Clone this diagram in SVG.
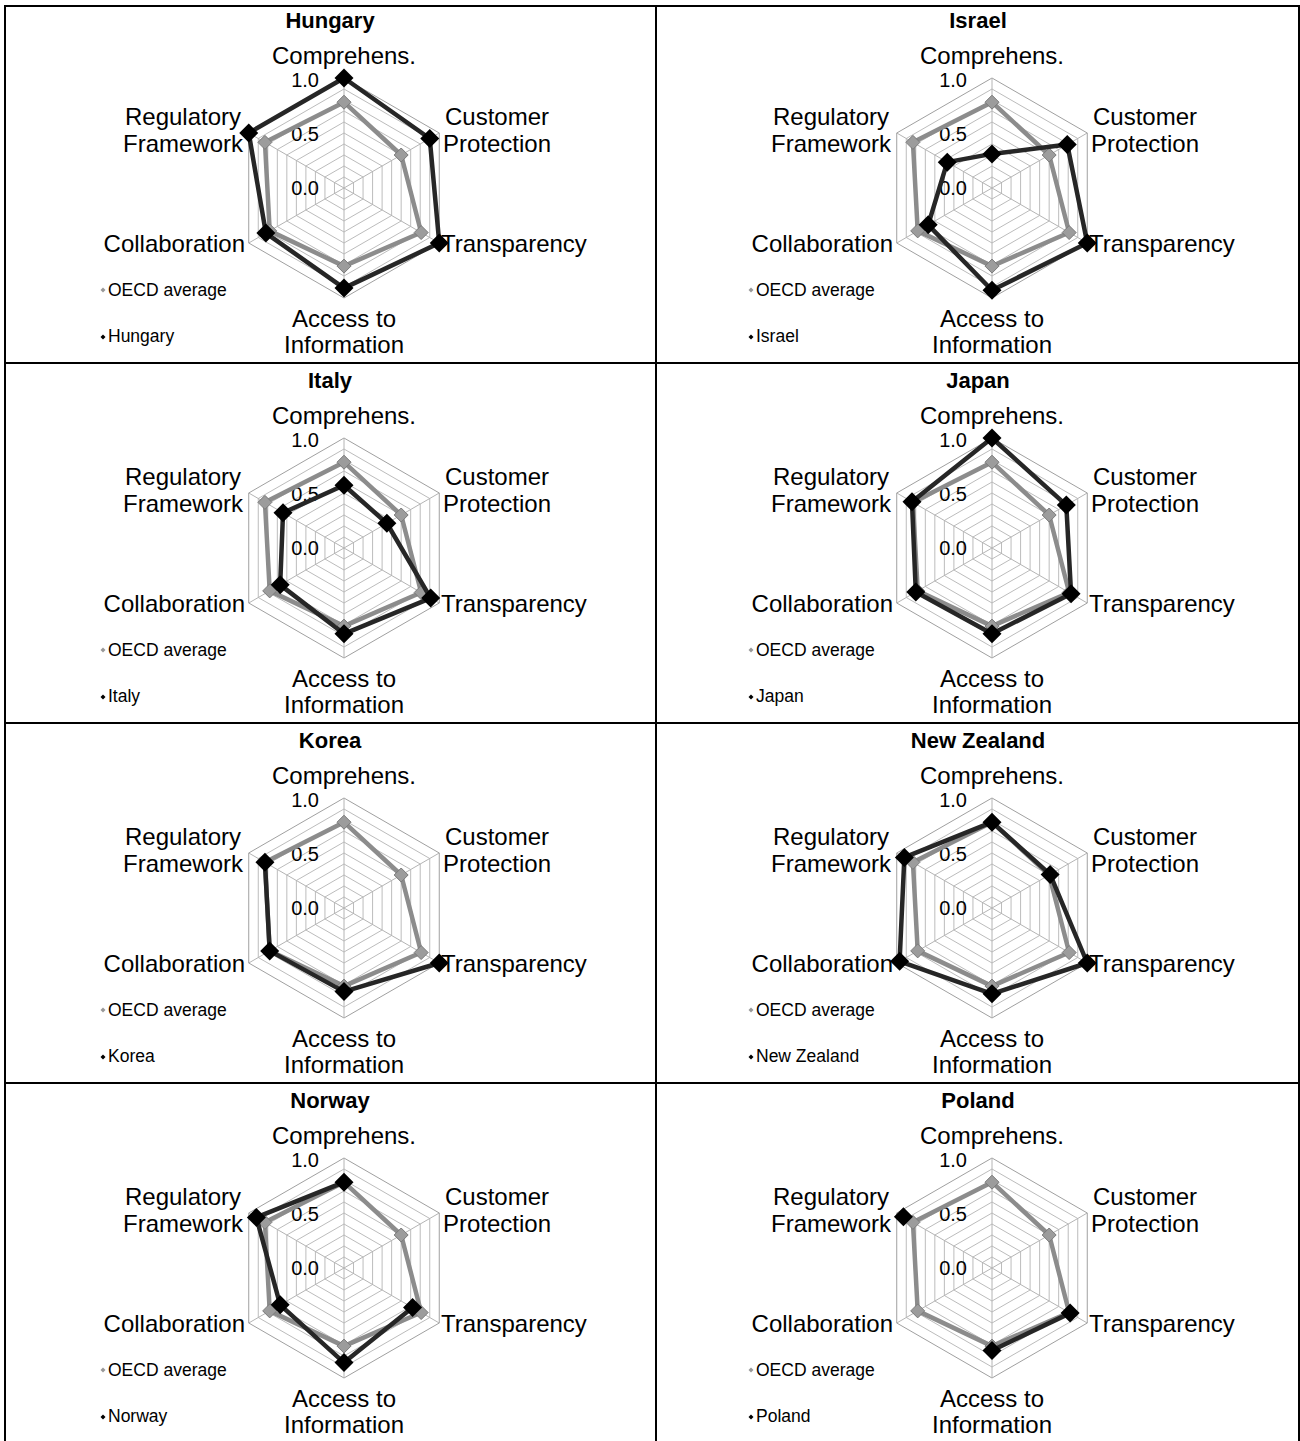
<svg xmlns="http://www.w3.org/2000/svg" xmlns:xlink="http://www.w3.org/1999/xlink" width="1300" height="1441" viewBox="0 0 1300 1441">
<style>
.grid polygon{fill:none;stroke:#bcbcbc;stroke-width:1}
.grid line{stroke:#b4b4b4;stroke-width:1}
.grid .outer{stroke:#a0a0a0}
text{font-family:"Liberation Sans",Arial,sans-serif;fill:#000}
.lbl{font-size:24px}
.mid{text-anchor:middle}
.end{text-anchor:end}
.tick{font-size:20px;text-anchor:end}
.ttl{font-size:22px;font-weight:bold;text-anchor:middle}
.leg{font-size:17.5px}
.avg{fill:none;stroke:#8c8c8c;stroke-width:4.5;stroke-linejoin:round}
.cty{fill:none;stroke:#262626;stroke-width:4.5;stroke-linejoin:round}
.frame line{stroke:#000;stroke-width:2}
</style>
<defs>
<g id="grid" class="grid">
<polygon points="0,-11 9.526,-5.5 9.526,5.5 0,11 -9.526,5.5 -9.526,-5.5"/>
<polygon points="0,-22 19.053,-11 19.053,11 0,22 -19.053,11 -19.053,-11"/>
<polygon points="0,-33 28.579,-16.5 28.579,16.5 0,33 -28.579,16.5 -28.579,-16.5"/>
<polygon points="0,-44 38.105,-22 38.105,22 0,44 -38.105,22 -38.105,-22"/>
<polygon points="0,-55 47.631,-27.5 47.631,27.5 0,55 -47.631,27.5 -47.631,-27.5"/>
<polygon points="0,-66 57.158,-33 57.158,33 0,66 -57.158,33 -57.158,-33"/>
<polygon points="0,-77 66.684,-38.5 66.684,38.5 0,77 -66.684,38.5 -66.684,-38.5"/>
<polygon points="0,-88 76.21,-44 76.21,44 0,88 -76.21,44 -76.21,-44"/>
<polygon points="0,-99 85.737,-49.5 85.737,49.5 0,99 -85.737,49.5 -85.737,-49.5"/>
<polygon class="outer" points="0,-110 95.263,-55 95.263,55 0,110 -95.263,55 -95.263,-55"/>
<line x1="0" y1="0" x2="0" y2="-110"/>
<line x1="0" y1="0" x2="95.263" y2="-55"/>
<line x1="0" y1="0" x2="95.263" y2="55"/>
<line x1="0" y1="0" x2="0" y2="110"/>
<line x1="0" y1="0" x2="-95.263" y2="55"/>
<line x1="0" y1="0" x2="-95.263" y2="-55"/>
</g>
<path id="dk" d="M0,-9.5L9.5,0L0,9.5L-9.5,0Z" fill="#000"/>
<path id="dg" d="M0,-7L7,0L0,7L-7,0Z" fill="#9c9c9c" stroke="#7a7a7a" stroke-width="1"/>
<path id="mk" d="M0,-2.5L2.5,0L0,2.5L-2.5,0Z" fill="#000"/>
<path id="mg" d="M0,-2.5L2.5,0L0,2.5L-2.5,0Z" fill="#9a9a9a"/>
</defs>
<rect width="1300" height="1441" fill="#fff"/>
<g id="frame" class="frame">
<line x1="5" y1="6" x2="1299" y2="6"/>
<line x1="5" y1="5" x2="5" y2="1441"/>
<line x1="1299" y1="5" x2="1299" y2="1441"/>
<line x1="656" y1="6" x2="656" y2="1441"/>
<line x1="5" y1="363" x2="1299" y2="363"/>
<line x1="5" y1="723" x2="1299" y2="723"/>
<line x1="5" y1="1083" x2="1299" y2="1083"/>
</g>

<g id="panel-hungary" transform="translate(344,188)">
<use href="#grid"/>
<text class="ttl" x="-14" y="-160">Hungary</text>
<text class="lbl mid" x="0" y="-124">Comprehens.</text>
<text class="tick" x="-25" y="-101">1.0</text>
<text class="tick" x="-25" y="-47">0.5</text>
<text class="tick" x="-25" y="7">0.0</text>
<text class="lbl mid" x="-161" y="-63">Regulatory</text>
<text class="lbl mid" x="-161" y="-36">Framework</text>
<text class="lbl mid" x="153" y="-63">Customer</text>
<text class="lbl mid" x="153" y="-36">Protection</text>
<text class="lbl" x="97" y="64">Transparency</text>
<text class="lbl end" x="-99" y="64">Collaboration</text>
<text class="lbl mid" x="0" y="139">Access to</text>
<text class="lbl mid" x="0" y="165">Information</text>
<use href="#mg" x="-241" y="102"/><text class="leg" x="-236" y="108">OECD average</text>
<use href="#mk" x="-241" y="149"/><text class="leg" x="-236" y="154">Hungary</text>
<path class="avg" d="M0,-85.8L57.16,-33L77.16,44.55L0,78.1L-74.3,42.9L-79.07,-45.65Z"/>
<use href="#dg" x="0" y="-85.8"/><use href="#dg" x="57.16" y="-33"/><use href="#dg" x="77.16" y="44.55"/><use href="#dg" x="0" y="78.1"/><use href="#dg" x="-74.3" y="42.9"/><use href="#dg" x="-79.07" y="-45.65"/>
<path class="cty" d="M0,-110L85.74,-49.5L95.26,55L0,100.1L-78.11,45.1L-95.26,-55Z"/>
<use href="#dk" x="0" y="-110"/><use href="#dk" x="85.74" y="-49.5"/><use href="#dk" x="95.26" y="55"/><use href="#dk" x="0" y="100.1"/><use href="#dk" x="-78.11" y="45.1"/><use href="#dk" x="-95.26" y="-55"/>
</g>

<g id="panel-israel" transform="translate(992,188)">
<use href="#grid"/>
<text class="ttl" x="-14" y="-160">Israel</text>
<text class="lbl mid" x="0" y="-124">Comprehens.</text>
<text class="tick" x="-25" y="-101">1.0</text>
<text class="tick" x="-25" y="-47">0.5</text>
<text class="tick" x="-25" y="7">0.0</text>
<text class="lbl mid" x="-161" y="-63">Regulatory</text>
<text class="lbl mid" x="-161" y="-36">Framework</text>
<text class="lbl mid" x="153" y="-63">Customer</text>
<text class="lbl mid" x="153" y="-36">Protection</text>
<text class="lbl" x="97" y="64">Transparency</text>
<text class="lbl end" x="-99" y="64">Collaboration</text>
<text class="lbl mid" x="0" y="139">Access to</text>
<text class="lbl mid" x="0" y="165">Information</text>
<use href="#mg" x="-241" y="102"/><text class="leg" x="-236" y="108">OECD average</text>
<use href="#mk" x="-241" y="149"/><text class="leg" x="-236" y="154">Israel</text>
<path class="avg" d="M0,-85.8L57.16,-33L77.16,44.55L0,78.1L-74.3,42.9L-79.07,-45.65Z"/>
<use href="#dg" x="0" y="-85.8"/><use href="#dg" x="57.16" y="-33"/><use href="#dg" x="77.16" y="44.55"/><use href="#dg" x="0" y="78.1"/><use href="#dg" x="-74.3" y="42.9"/><use href="#dg" x="-79.07" y="-45.65"/>
<path class="cty" d="M0,-34.1L75.26,-43.45L95.26,55L0,102.3L-63.82,36.85L-44.77,-25.85Z"/>
<use href="#dk" x="0" y="-34.1"/><use href="#dk" x="75.26" y="-43.45"/><use href="#dk" x="95.26" y="55"/><use href="#dk" x="0" y="102.3"/><use href="#dk" x="-63.82" y="36.85"/><use href="#dk" x="-44.77" y="-25.85"/>
</g>

<g id="panel-italy" transform="translate(344,548)">
<use href="#grid"/>
<text class="ttl" x="-14" y="-160">Italy</text>
<text class="lbl mid" x="0" y="-124">Comprehens.</text>
<text class="tick" x="-25" y="-101">1.0</text>
<text class="tick" x="-25" y="-47">0.5</text>
<text class="tick" x="-25" y="7">0.0</text>
<text class="lbl mid" x="-161" y="-63">Regulatory</text>
<text class="lbl mid" x="-161" y="-36">Framework</text>
<text class="lbl mid" x="153" y="-63">Customer</text>
<text class="lbl mid" x="153" y="-36">Protection</text>
<text class="lbl" x="97" y="64">Transparency</text>
<text class="lbl end" x="-99" y="64">Collaboration</text>
<text class="lbl mid" x="0" y="139">Access to</text>
<text class="lbl mid" x="0" y="165">Information</text>
<use href="#mg" x="-241" y="102"/><text class="leg" x="-236" y="108">OECD average</text>
<use href="#mk" x="-241" y="149"/><text class="leg" x="-236" y="154">Italy</text>
<path class="avg" d="M0,-85.8L57.16,-33L77.16,44.55L0,78.1L-74.3,42.9L-79.07,-45.65Z"/>
<use href="#dg" x="0" y="-85.8"/><use href="#dg" x="57.16" y="-33"/><use href="#dg" x="77.16" y="44.55"/><use href="#dg" x="0" y="78.1"/><use href="#dg" x="-74.3" y="42.9"/><use href="#dg" x="-79.07" y="-45.65"/>
<path class="cty" d="M0,-62.7L42.87,-24.75L86.69,50.05L0,85.8L-63.82,36.85L-60.97,-35.2Z"/>
<use href="#dk" x="0" y="-62.7"/><use href="#dk" x="42.87" y="-24.75"/><use href="#dk" x="86.69" y="50.05"/><use href="#dk" x="0" y="85.8"/><use href="#dk" x="-63.82" y="36.85"/><use href="#dk" x="-60.97" y="-35.2"/>
</g>

<g id="panel-japan" transform="translate(992,548)">
<use href="#grid"/>
<text class="ttl" x="-14" y="-160">Japan</text>
<text class="lbl mid" x="0" y="-124">Comprehens.</text>
<text class="tick" x="-25" y="-101">1.0</text>
<text class="tick" x="-25" y="-47">0.5</text>
<text class="tick" x="-25" y="7">0.0</text>
<text class="lbl mid" x="-161" y="-63">Regulatory</text>
<text class="lbl mid" x="-161" y="-36">Framework</text>
<text class="lbl mid" x="153" y="-63">Customer</text>
<text class="lbl mid" x="153" y="-36">Protection</text>
<text class="lbl" x="97" y="64">Transparency</text>
<text class="lbl end" x="-99" y="64">Collaboration</text>
<text class="lbl mid" x="0" y="139">Access to</text>
<text class="lbl mid" x="0" y="165">Information</text>
<use href="#mg" x="-241" y="102"/><text class="leg" x="-236" y="108">OECD average</text>
<use href="#mk" x="-241" y="149"/><text class="leg" x="-236" y="154">Japan</text>
<path class="avg" d="M0,-85.8L57.16,-33L77.16,44.55L0,78.1L-74.3,42.9L-79.07,-45.65Z"/>
<use href="#dg" x="0" y="-85.8"/><use href="#dg" x="57.16" y="-33"/><use href="#dg" x="77.16" y="44.55"/><use href="#dg" x="0" y="78.1"/><use href="#dg" x="-74.3" y="42.9"/><use href="#dg" x="-79.07" y="-45.65"/>
<path class="cty" d="M0,-110L74.3,-42.9L79.07,45.65L0,85.8L-76.21,44L-80.02,-46.2Z"/>
<use href="#dk" x="0" y="-110"/><use href="#dk" x="74.3" y="-42.9"/><use href="#dk" x="79.07" y="45.65"/><use href="#dk" x="0" y="85.8"/><use href="#dk" x="-76.21" y="44"/><use href="#dk" x="-80.02" y="-46.2"/>
</g>

<g id="panel-korea" transform="translate(344,908)">
<use href="#grid"/>
<text class="ttl" x="-14" y="-160">Korea</text>
<text class="lbl mid" x="0" y="-124">Comprehens.</text>
<text class="tick" x="-25" y="-101">1.0</text>
<text class="tick" x="-25" y="-47">0.5</text>
<text class="tick" x="-25" y="7">0.0</text>
<text class="lbl mid" x="-161" y="-63">Regulatory</text>
<text class="lbl mid" x="-161" y="-36">Framework</text>
<text class="lbl mid" x="153" y="-63">Customer</text>
<text class="lbl mid" x="153" y="-36">Protection</text>
<text class="lbl" x="97" y="64">Transparency</text>
<text class="lbl end" x="-99" y="64">Collaboration</text>
<text class="lbl mid" x="0" y="139">Access to</text>
<text class="lbl mid" x="0" y="165">Information</text>
<use href="#mg" x="-241" y="102"/><text class="leg" x="-236" y="108">OECD average</text>
<use href="#mk" x="-241" y="149"/><text class="leg" x="-236" y="154">Korea</text>
<path class="avg" d="M0,-85.8L57.16,-33L77.16,44.55L0,78.1L-74.3,42.9L-79.07,-45.65Z"/>
<use href="#dg" x="0" y="-85.8"/><use href="#dg" x="57.16" y="-33"/><use href="#dg" x="77.16" y="44.55"/><use href="#dg" x="0" y="78.1"/><use href="#dg" x="-74.3" y="42.9"/><use href="#dg" x="-79.07" y="-45.65"/>
<path class="cty" d="M95.26,55L0,83.6L-74.3,42.9L-79.07,-45.65"/>
<use href="#dk" x="95.26" y="55"/><use href="#dk" x="0" y="83.6"/><use href="#dk" x="-74.3" y="42.9"/><use href="#dk" x="-79.07" y="-45.65"/>
</g>

<g id="panel-new-zealand" transform="translate(992,908)">
<use href="#grid"/>
<text class="ttl" x="-14" y="-160">New Zealand</text>
<text class="lbl mid" x="0" y="-124">Comprehens.</text>
<text class="tick" x="-25" y="-101">1.0</text>
<text class="tick" x="-25" y="-47">0.5</text>
<text class="tick" x="-25" y="7">0.0</text>
<text class="lbl mid" x="-161" y="-63">Regulatory</text>
<text class="lbl mid" x="-161" y="-36">Framework</text>
<text class="lbl mid" x="153" y="-63">Customer</text>
<text class="lbl mid" x="153" y="-36">Protection</text>
<text class="lbl" x="97" y="64">Transparency</text>
<text class="lbl end" x="-99" y="64">Collaboration</text>
<text class="lbl mid" x="0" y="139">Access to</text>
<text class="lbl mid" x="0" y="165">Information</text>
<use href="#mg" x="-241" y="102"/><text class="leg" x="-236" y="108">OECD average</text>
<use href="#mk" x="-241" y="149"/><text class="leg" x="-236" y="154">New Zealand</text>
<path class="avg" d="M0,-85.8L57.16,-33L77.16,44.55L0,78.1L-74.3,42.9L-79.07,-45.65Z"/>
<use href="#dg" x="0" y="-85.8"/><use href="#dg" x="57.16" y="-33"/><use href="#dg" x="77.16" y="44.55"/><use href="#dg" x="0" y="78.1"/><use href="#dg" x="-74.3" y="42.9"/><use href="#dg" x="-79.07" y="-45.65"/>
<path class="cty" d="M0,-85.8L58.11,-33.55L95.26,55L0,85.8L-92.4,53.35L-87.64,-50.6Z"/>
<use href="#dk" x="0" y="-85.8"/><use href="#dk" x="58.11" y="-33.55"/><use href="#dk" x="95.26" y="55"/><use href="#dk" x="0" y="85.8"/><use href="#dk" x="-92.4" y="53.35"/><use href="#dk" x="-87.64" y="-50.6"/>
</g>

<g id="panel-norway" transform="translate(344,1268)">
<use href="#grid"/>
<text class="ttl" x="-14" y="-160">Norway</text>
<text class="lbl mid" x="0" y="-124">Comprehens.</text>
<text class="tick" x="-25" y="-101">1.0</text>
<text class="tick" x="-25" y="-47">0.5</text>
<text class="tick" x="-25" y="7">0.0</text>
<text class="lbl mid" x="-161" y="-63">Regulatory</text>
<text class="lbl mid" x="-161" y="-36">Framework</text>
<text class="lbl mid" x="153" y="-63">Customer</text>
<text class="lbl mid" x="153" y="-36">Protection</text>
<text class="lbl" x="97" y="64">Transparency</text>
<text class="lbl end" x="-99" y="64">Collaboration</text>
<text class="lbl mid" x="0" y="139">Access to</text>
<text class="lbl mid" x="0" y="165">Information</text>
<use href="#mg" x="-241" y="102"/><text class="leg" x="-236" y="108">OECD average</text>
<use href="#mk" x="-241" y="149"/><text class="leg" x="-236" y="154">Norway</text>
<path class="avg" d="M0,-85.8L57.16,-33L77.16,44.55L0,78.1L-74.3,42.9L-79.07,-45.65Z"/>
<use href="#dg" x="0" y="-85.8"/><use href="#dg" x="57.16" y="-33"/><use href="#dg" x="77.16" y="44.55"/><use href="#dg" x="0" y="78.1"/><use href="#dg" x="-74.3" y="42.9"/><use href="#dg" x="-79.07" y="-45.65"/>
<path class="cty" d="M68.59,39.6L0,94.6L-63.82,36.85L-87.64,-50.6L0,-85.8"/>
<use href="#dk" x="68.59" y="39.6"/><use href="#dk" x="0" y="94.6"/><use href="#dk" x="-63.82" y="36.85"/><use href="#dk" x="-87.64" y="-50.6"/><use href="#dk" x="0" y="-85.8"/>
</g>

<g id="panel-poland" transform="translate(992,1268)">
<use href="#grid"/>
<text class="ttl" x="-14" y="-160">Poland</text>
<text class="lbl mid" x="0" y="-124">Comprehens.</text>
<text class="tick" x="-25" y="-101">1.0</text>
<text class="tick" x="-25" y="-47">0.5</text>
<text class="tick" x="-25" y="7">0.0</text>
<text class="lbl mid" x="-161" y="-63">Regulatory</text>
<text class="lbl mid" x="-161" y="-36">Framework</text>
<text class="lbl mid" x="153" y="-63">Customer</text>
<text class="lbl mid" x="153" y="-36">Protection</text>
<text class="lbl" x="97" y="64">Transparency</text>
<text class="lbl end" x="-99" y="64">Collaboration</text>
<text class="lbl mid" x="0" y="139">Access to</text>
<text class="lbl mid" x="0" y="165">Information</text>
<use href="#mg" x="-241" y="102"/><text class="leg" x="-236" y="108">OECD average</text>
<use href="#mk" x="-241" y="149"/><text class="leg" x="-236" y="154">Poland</text>
<path class="avg" d="M0,-85.8L57.16,-33L77.16,44.55L0,78.1L-74.3,42.9L-79.07,-45.65Z"/>
<use href="#dg" x="0" y="-85.8"/><use href="#dg" x="57.16" y="-33"/><use href="#dg" x="77.16" y="44.55"/><use href="#dg" x="0" y="78.1"/><use href="#dg" x="-74.3" y="42.9"/><use href="#dg" x="-79.07" y="-45.65"/>
<path class="cty" d="M78.11,45.1L0,82.5"/>
<use href="#dk" x="78.11" y="45.1"/><use href="#dk" x="0" y="82.5"/><use href="#dk" x="-88.59" y="-51.15"/>
</g>
</svg>
